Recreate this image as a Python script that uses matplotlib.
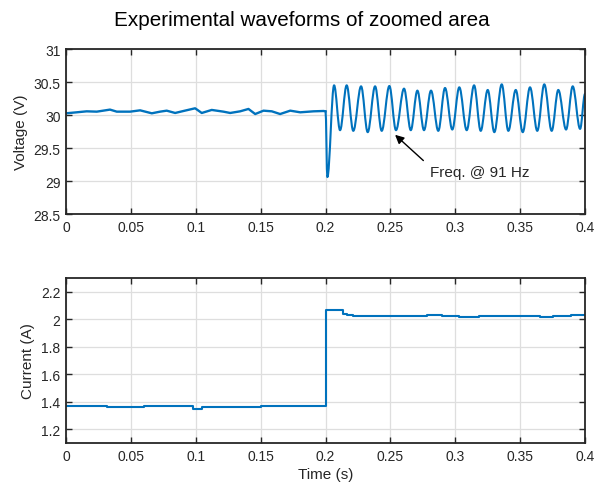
import numpy as np
import matplotlib
matplotlib.use('Agg')
import matplotlib.pyplot as plt
from matplotlib.path import Path
from matplotlib.patches import PathPatch

plt.rcParams['font.family'] = ['Liberation Sans', 'DejaVu Sans']

# ---- voltage before the step
volt_pre_t = [0.0, 0.0082, 0.0159, 0.0237, 0.0339, 0.0391, 0.0494, 0.0571, 0.0661,
              0.0725, 0.0776, 0.0841, 0.0905, 0.0995, 0.1046, 0.1123, 0.1213, 0.1265,
              0.1342, 0.1406, 0.1458, 0.1522, 0.1586, 0.1650, 0.1728, 0.1805, 0.1907,
              0.1985, 0.2000]
volt_pre_v = [30.026, 30.041, 30.056, 30.051, 30.082, 30.051, 30.051, 30.071, 30.026,
              30.051, 30.066, 30.031, 30.061, 30.102, 30.031, 30.077, 30.051, 30.031,
              30.056, 30.092, 30.015, 30.066, 30.056, 30.015, 30.066, 30.041, 30.056,
              30.061, 30.056]

# ---- dip right after the step
dip_t = 0.2014
dip_v = 29.06

# ---- oscillation extrema (~91 Hz)
peak_t = [0.2066, 0.2163, 0.2274, 0.2382, 0.2492, 0.2605, 0.2708, 0.2813, 0.2921,
          0.3031, 0.3145, 0.3250, 0.3358, 0.3466, 0.3576, 0.3686, 0.3794, 0.3905]
peak_v = [30.45, 30.45, 30.435, 30.435, 30.44, 30.40, 30.37, 30.37, 30.41,
          30.42, 30.45, 30.38, 30.465, 30.38, 30.42, 30.465, 30.38, 30.435]
trough_t = [0.2112, 0.2214, 0.2325, 0.2433, 0.2543, 0.2657, 0.2759, 0.2869, 0.2977,
            0.3088, 0.3196, 0.3301, 0.3409, 0.3520, 0.3632, 0.3743, 0.3854, 0.3962]
trough_v = [29.77, 29.76, 29.74, 29.76, 29.77, 29.77, 29.77, 29.76, 29.78,
            29.77, 29.76, 29.74, 29.76, 29.74, 29.76, 29.76, 29.78, 29.79]
end_t = 0.4
end_v = 30.32

# ---- current (step-wise)
curr_t = [0.0, 0.0315, 0.060, 0.075, 0.098, 0.1045, 0.14, 0.15, 0.2, 0.2138, 0.2167,
          0.2215, 0.245, 0.265, 0.278, 0.290, 0.3025, 0.318, 0.335, 0.346, 0.3655,
          0.3755, 0.389, 0.4]
curr_v = [1.372, 1.362, 1.368, 1.370, 1.350, 1.364, 1.360, 1.368, 2.071, 2.035, 2.030,
          2.024, 2.022, 2.026, 2.030, 2.027, 2.019, 2.024, 2.027, 2.022, 2.017, 2.024,
          2.030, 2.030]

blue = '#0072BD'
dark = '#262626'
fs = 10
fs_lab = 11


def style_axes(ax):
    ax.grid(True, color='#dedede', linewidth=0.9)
    ax.set_axisbelow(True)
    for s in ax.spines.values():
        s.set_color(dark)
        s.set_linewidth(1.3)
    ax.tick_params(direction='in', top=True, right=True, length=4, width=1.0,
                   colors=dark, labelsize=fs, pad=4)
    ax.set_xlim(0, 0.4)
    ax.set_xticks(np.arange(0, 0.41, 0.05))
    ax.set_xticklabels(['0', '0.05', '0.1', '0.15', '0.2', '0.25', '0.3', '0.35', '0.4'])


fig = plt.figure(figsize=(6.03, 4.89), dpi=100)
ax1 = fig.add_axes([0.1095, 0.5603, 0.8607, 0.3374])
ax2 = fig.add_axes([0.1095, 0.0920, 0.8607, 0.3374])

# top: voltage
ax1.plot(volt_pre_t, volt_pre_v, color=blue, linewidth=1.7)

# smooth curve through the extrema (cubic bezier with flat tangents)
ext_t = [volt_pre_t[-1], dip_t]
ext_v = [volt_pre_v[-1], dip_v]
for i in range(len(peak_t)):
    ext_t += [peak_t[i], trough_t[i]]
    ext_v += [peak_v[i], trough_v[i]]
ext_t.append(end_t)
ext_v.append(end_v)

verts = [(ext_t[0], ext_v[0])]
codes = [Path.MOVETO]
for i in range(len(ext_t) - 1):
    dt = ext_t[i + 1] - ext_t[i]
    verts += [(ext_t[i] + 0.36 * dt, ext_v[i]),
              (ext_t[i + 1] - 0.36 * dt, ext_v[i + 1]),
              (ext_t[i + 1], ext_v[i + 1])]
    codes += [Path.CURVE4] * 3
ax1.add_patch(PathPatch(Path(verts, codes), facecolor='none', edgecolor=blue,
                        linewidth=1.5, capstyle='round', joinstyle='round'))

style_axes(ax1)
ax1.set_ylim(28.5, 31)
ax1.set_yticks([28.5, 29, 29.5, 30, 30.5, 31])
ax1.set_yticklabels(['28.5', '29', '29.5', '30', '30.5', '31'])
ax1.set_ylabel('Voltage (V)', fontsize=fs_lab, color=dark, labelpad=4)

ax1.annotate('', xy=(0.2536, 29.70), xytext=(0.2754, 29.31),
             arrowprops=dict(arrowstyle='-|>', color='black', lw=1.0,
                             mutation_scale=13, shrinkA=0, shrinkB=0))
ax1.text(0.2805, 29.13, 'Freq. @ 91 Hz', fontsize=11, color=dark, ha='left', va='center')

# bottom: current
ax2.plot(curr_t, curr_v, color=blue, linewidth=1.5, drawstyle='steps-post')
style_axes(ax2)
ax2.set_ylim(1.1, 2.3)
ax2.set_yticks([1.2, 1.4, 1.6, 1.8, 2.0, 2.2])
ax2.set_yticklabels(['1.2', '1.4', '1.6', '1.8', '2', '2.2'])
ax2.set_ylabel('Current (A)', fontsize=fs_lab, color=dark, labelpad=4)
ax2.set_xlabel('Time (s)', fontsize=fs_lab, color=dark, labelpad=3)

fig.suptitle('Experimental waveforms of zoomed area', fontsize=14.9, y=0.958, va='center')

fig.savefig('out.png', dpi=100)
